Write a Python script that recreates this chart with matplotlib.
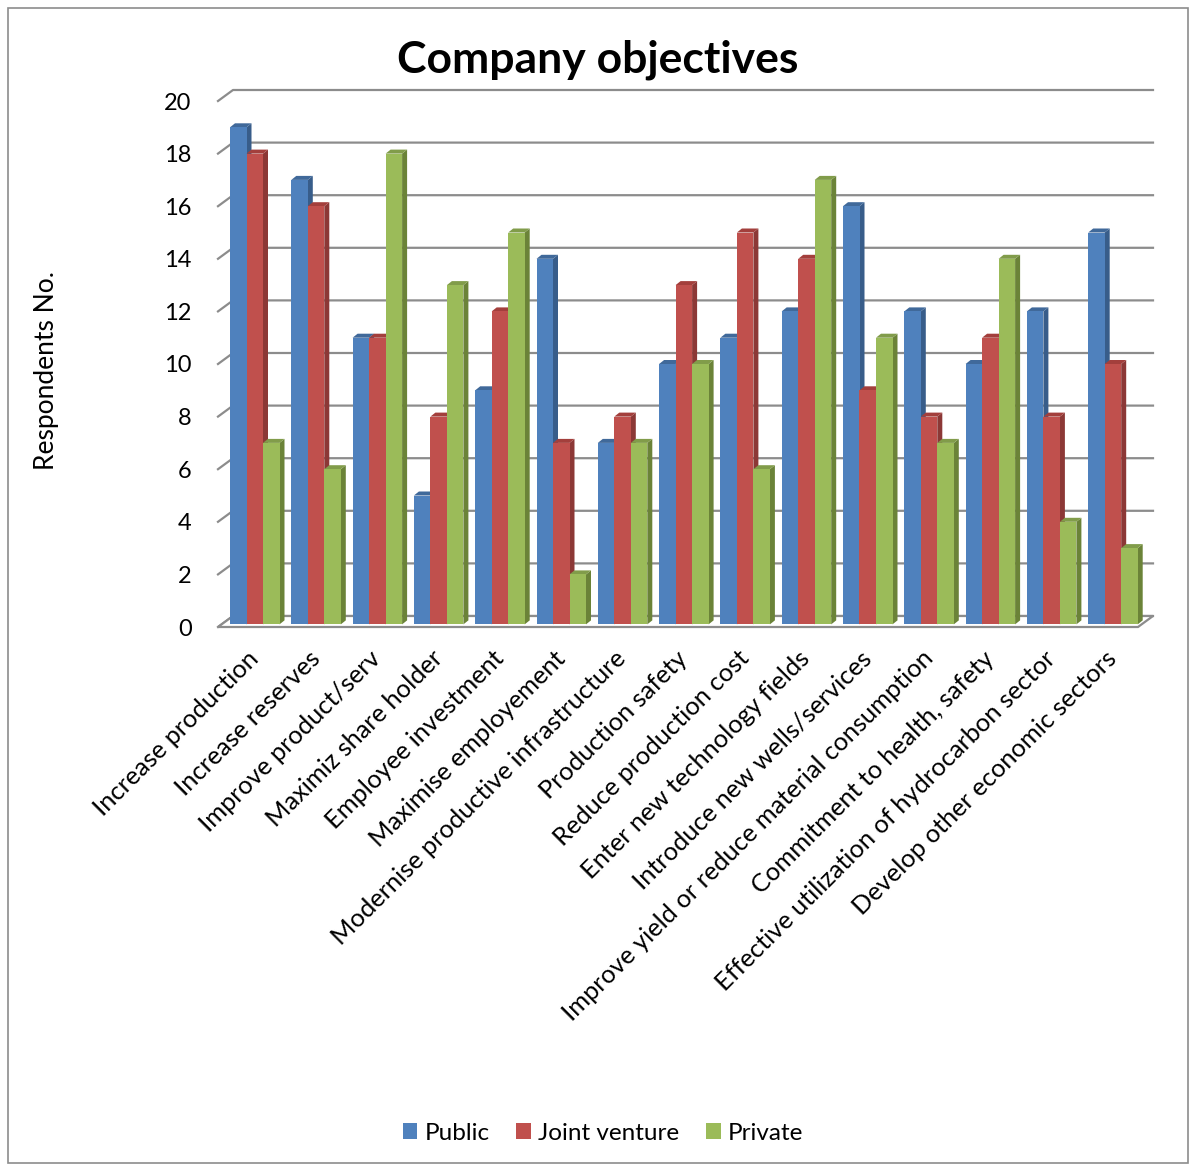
import matplotlib.pyplot as plt
from matplotlib.patches import Polygon, Rectangle
import numpy as np

plt.rcParams['font.family'] = ['Lato', 'DejaVu Sans']

categories = ['Increase production', 'Increase reserves', 'Improve product/serv',
              'Maximiz share holder', 'Employee investment', 'Maximise employement',
              'Modernise productive infrastructure', 'Production safety',
              'Reduce production cost', 'Enter new technology fields',
              'Introduce new wells/services', 'Improve yield or reduce material consumption',
              'Commitment to health, safety', 'Effective utilization of hydrocarbon sector',
              'Develop other economic sectors']
public = [19, 17, 11, 5, 9, 14, 7, 10, 11, 12, 16, 12, 10, 12, 15]
joint_venture = [18, 16, 11, 8, 12, 7, 8, 13, 15, 14, 9, 8, 11, 8, 10]
private = [7, 6, 18, 13, 15, 2, 7, 10, 6, 17, 11, 7, 14, 4, 3]
series_names = ['Public', 'Joint venture', 'Private']

# front / top / side colours (Excel 2007 style)
colors = [('#4F81BD', '#40699A', '#385D8A'),
          ('#C0504D', '#A33F3C', '#8C3836'),
          ('#9BBB59', '#819C4A', '#6B8338')]

W, H = 1194, 1165
fig = plt.figure(figsize=(W / 100, H / 100), dpi=100)

# pixel geometry of the plot area
px_unit_x = 61.3
px_unit_y = 26.3
x0_px = 254.75      # centre of first group
left_px, right_px = 218, 1153
base_px, top_px = 627, 90

xlo = (left_px - x0_px) / px_unit_x
xhi = (right_px - x0_px) / px_unit_x
yhi = (base_px - top_px) / px_unit_y
ax = fig.add_axes([left_px / W, (H - base_px) / H,
                   (right_px - left_px) / W, (base_px - top_px) / H])
ax.set_xlim(xlo, xhi)
ax.set_ylim(0, yhi)
for s in ax.spines.values():
    s.set_visible(False)

ddx = 15 / px_unit_x    # depth of the back wall
ddy = 11 / px_unit_y
front_right = (1138 - x0_px) / px_unit_x

# back wall gridlines
for v in range(0, 21, 2):
    ax.plot([xlo, xlo + ddx, xhi], [v, v + ddy, v + ddy], color='#8C8C8C', lw=1.6,
            clip_on=False, zorder=1)

# floor
floor = Polygon([(xlo, 0), (front_right, 0), (xhi, ddy), (xlo + ddx, ddy)],
                closed=True, facecolor='white', edgecolor='#8C8C8C', lw=1.6,
                clip_on=False, zorder=1)
ax.add_patch(floor)

bw = 16.5 / px_unit_x
sx = 5 / px_unit_x
sy = 4 / px_unit_y
base = 0.1
x = np.arange(len(categories))
for k, vals in enumerate([public, joint_venture, private]):
    front, topc, side = colors[k]
    for i, v in enumerate(vals):
        xl = x[i] - 1.5 * bw + k * bw
        xr = xl + bw
        z = 3 + k * 0.01
        ax.add_patch(Polygon([(xr, base), (xr + sx, base + sy), (xr + sx, v + sy), (xr, v)],
                             closed=True, facecolor=side, edgecolor='none',
                             clip_on=False, zorder=z))
        ax.add_patch(Polygon([(xl, v), (xl + sx, v + sy), (xr + sx, v + sy), (xr, v)],
                             closed=True, facecolor=topc, edgecolor='none',
                             clip_on=False, zorder=z))
        ax.add_patch(Rectangle((xl, base), bw, v - base, facecolor=front,
                               edgecolor='none', clip_on=False, zorder=z + 0.001))

ax.set_yticks(range(0, 21, 2))
ax.set_yticklabels([str(v) for v in range(0, 21, 2)], fontsize=17)
ax.set_xticks(x)
ax.set_xticklabels(categories, rotation=45, ha='right', va='center',
                   rotation_mode='anchor', fontsize=18.3)
ax.tick_params(axis='y', length=0, pad=19)
ax.tick_params(axis='x', length=0, pad=20)

fig.text(47 / W, 1 - 370 / H, 'Respondents No.', rotation=90, ha='center', va='center',
         fontsize=19)
fig.text(598 / W, 1 - 60 / H, 'Company objectives', ha='center', va='center',
         fontsize=32, fontweight='bold')

# legend
handles = [Rectangle((0, 0), 1, 1, facecolor=colors[k][0]) for k in range(3)]
fig.legend(handles, series_names, loc='center', bbox_to_anchor=(603 / W, 1 - 1133 / H),
           ncol=3, frameon=False, fontsize=17.5, handlelength=0.6, handleheight=0.6,
           handletextpad=0.3, columnspacing=1.1)

# outer chart border
fig.patches.append(Rectangle((8 / W, 2 / H), (1188 - 8) / W, (1163 - 8) / H,
                             transform=fig.transFigure, fill=False,
                             edgecolor='#8C8C8C', lw=1.2))

fig.savefig('out.png', dpi=100)
